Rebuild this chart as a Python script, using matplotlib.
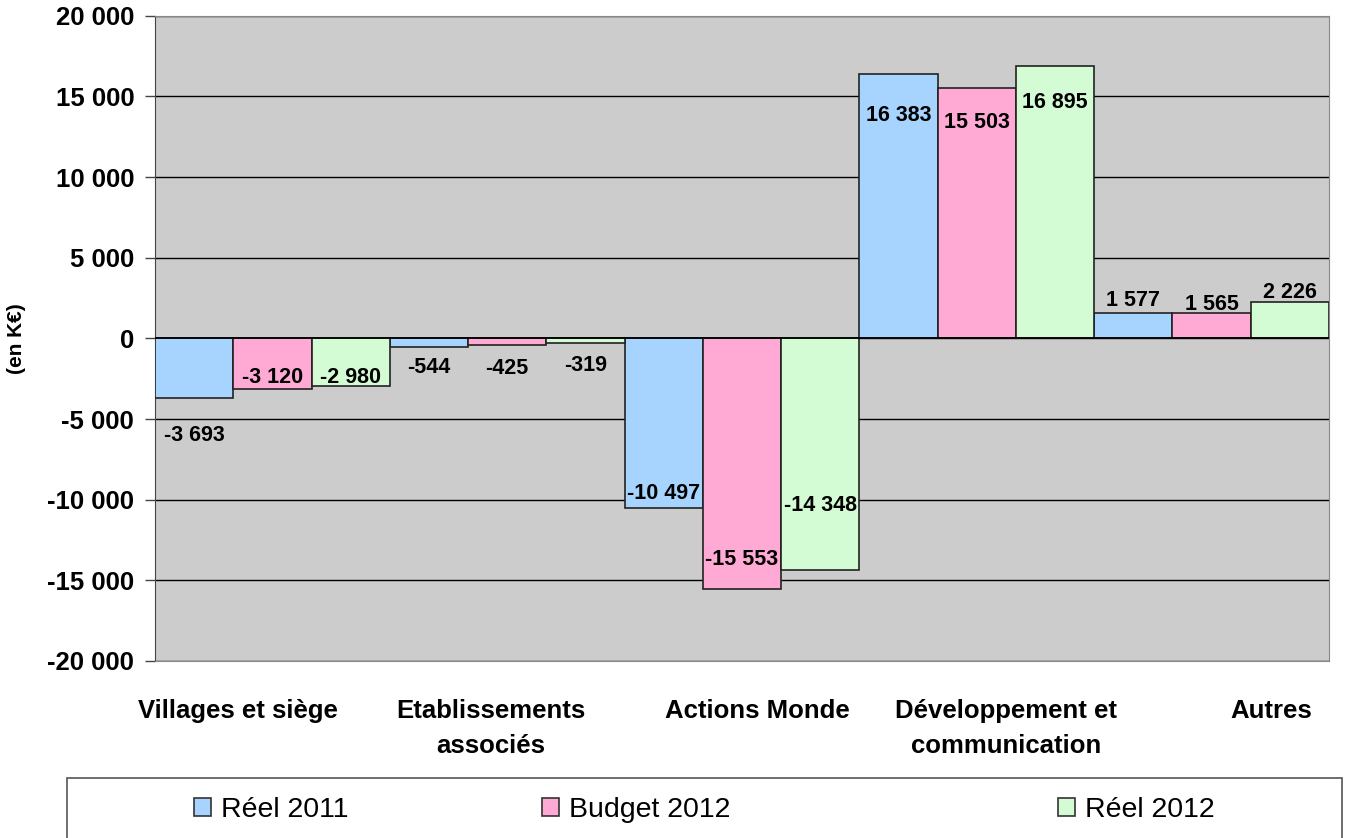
import numpy as np
import matplotlib.pyplot as plt
from matplotlib.patches import Patch, Rectangle

plt.rcParams['font.family'] = ['Liberation Sans', 'DejaVu Sans']

categories = ['Villages et siège', 'Etablissements\nassociés', 'Actions Monde',
              'Développement et\ncommunication', 'Autres']
series_names = ['Réel 2011', 'Budget 2012', 'Réel 2012']
reel_2011 = [-3693, -544, -10497, 16383, 1577]
budget_2012 = [-3120, -425, -15553, 15503, 1565]
reel_2012 = [-2980, -319, -14348, 16895, 2226]
colors = ['#A6D4FF', '#FFAAD4', '#D4FCD4']
# where excel put the value labels (pixels below the bar end)
label_shift = [[38, 20, -14, 41, -12],
               [-11, 23, -30, 34, -9],
               [-9, 22, -64, 37, -10]]
# excel spreads the category labels a bit wider than the groups
label_nudge = [-0.145, -0.068, 0.064, 0.124, 0.256]
yticks = np.arange(-20000, 20001, 5000)


def fmt(v):
    return '{:,}'.format(int(v)).replace(',', ' ')


fig = plt.figure(figsize=(13.47, 8.38), dpi=100)
ax = fig.add_axes([155/1347, 1-661/838, (1329-155)/1347, (661-15.7)/838])
ax.set_facecolor('#CCCCCC')

x = np.arange(len(categories))
w = 1/3
for i, vals in enumerate([reel_2011, budget_2012, reel_2012]):
    pos = x - 0.5 + w*i + w/2
    ax.bar(pos, vals, width=w, color=colors[i], edgecolor='#222222', linewidth=1.2, zorder=3)
    for j in range(len(vals)):
        ax.annotate(fmt(vals[j]), (pos[j], vals[j]), xytext=(0, -label_shift[i][j]*0.72),
                    textcoords='offset points', ha='center', va='center',
                    fontsize=15.5, fontweight='bold', zorder=5)

ax.set_xlim(-0.5, len(categories)-0.5)
ax.set_ylim(-20000, 20000)
ax.set_yticks(yticks)
ax.set_yticklabels([fmt(t) for t in yticks], fontsize=18.5, fontweight='bold')
ax.yaxis.grid(True, color='black', linewidth=1)
ax.set_axisbelow(True)
ax.axhline(0, color='black', linewidth=1.2, zorder=4)
ax.tick_params(axis='y', length=7, width=1, color='#444444', pad=8)
ax.set_xticks(x + np.array(label_nudge))
ax.set_xticklabels(categories, fontsize=18.5, fontweight='bold', linespacing=1.6)
ax.tick_params(axis='x', length=0, pad=27)
for s in ['top', 'right', 'bottom']:
    ax.spines[s].set_color('#888888')
ax.spines['left'].set_color('#444444')

ax.set_ylabel('(en K€)', fontsize=15, fontweight='bold')
ax.yaxis.set_label_coords(-0.11, 0.5)

# legend box
fig.patches.append(Rectangle((67/1347, -0.01), (1342-67)/1347, (838-778)/838+0.01,
                             transform=fig.transFigure, fill=False,
                             edgecolor='#555555', linewidth=1.2))
leg_x = [194, 542, 1058]
for i in range(3):
    h = Patch(facecolor=colors[i], edgecolor='#333333', linewidth=1.2)
    fig.legend([h], [series_names[i]], loc='center left',
               bbox_to_anchor=(leg_x[i]/1347, 1-810/838), frameon=False,
               fontsize=20.5, borderpad=0, borderaxespad=0,
               handlelength=0.6, handleheight=0.6, handletextpad=0.35)

fig.savefig('out.png', dpi=100)
